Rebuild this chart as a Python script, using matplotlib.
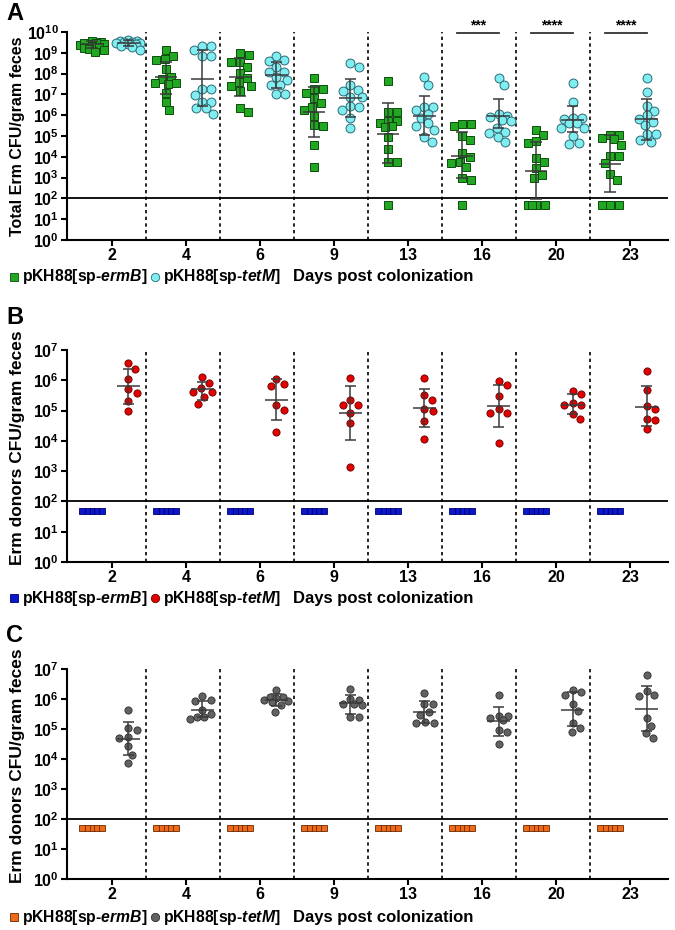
import numpy as np
import matplotlib
matplotlib.use('Agg')
import matplotlib.pyplot as plt
from matplotlib.ticker import FixedLocator, FuncFormatter, NullLocator
from matplotlib.lines import Line2D

plt.rcParams['font.family'] = ['Liberation Sans', 'DejaVu Sans']
plt.rcParams['font.weight'] = 'bold'
plt.rcParams['mathtext.fontset'] = 'custom'
plt.rcParams['mathtext.rm'] = 'Liberation Sans:bold'
plt.rcParams['mathtext.bf'] = 'Liberation Sans:bold'
plt.rcParams['mathtext.it'] = 'Liberation Sans:italic:bold'
plt.rcParams['mathtext.bfit'] = 'Liberation Sans:italic:bold'

days = ['2', '4', '6', '9', '13', '16', '20', '23']

# ---- panel A, log10 CFU/gram feces ----
a_ermB = [
    [9.57, 9.50, 9.45, 9.42, 9.40, 9.38, 9.35, 9.48, 9.30, 9.25, 9.20, 9.13, 9.05],
    [9.13, 8.85, 8.69, 8.65, 8.21, 7.85, 7.72, 7.53, 7.53, 7.50, 7.08, 6.65, 6.25],
    [9.00, 8.90, 8.57, 8.57, 8.33, 8.04, 7.77, 7.61, 7.40, 7.40, 7.18, 6.33, 6.17],
    [7.77, 7.24, 7.24, 7.05, 6.81, 6.57, 6.41, 6.25, 5.96, 5.53, 5.50, 4.57, 3.53],
    [7.66, 6.17, 6.17, 5.74, 5.70, 5.64, 5.48, 5.45, 4.94, 4.36, 3.73, 3.73, 1.70],
    [5.56, 5.56, 5.48, 5.00, 4.81, 4.17, 3.97, 3.77, 3.69, 3.49, 2.96, 2.88, 1.70],
    [5.29, 5.05, 4.76, 4.68, 3.93, 3.77, 3.45, 3.13, 2.96, 1.70, 1.70, 1.70, 1.70],
    [5.05, 5.05, 4.89, 4.84, 4.57, 4.04, 4.04, 3.72, 3.17, 2.88, 1.70, 1.70, 1.70],
]
a_tetM = [
    [9.62, 9.58, 9.55, 9.52, 9.50, 9.48, 9.46, 9.44, 9.40, 9.35, 9.28, 9.15],
    [9.33, 9.33, 9.13, 8.85, 8.85, 7.24, 7.24, 6.97, 6.65, 6.65, 6.33, 6.33, 6.06],
    [8.85, 8.65, 8.60, 8.33, 8.09, 8.09, 7.85, 7.69, 7.45, 7.45, 7.02, 7.02],
    [8.49, 8.33, 7.45, 7.21, 7.18, 6.89, 6.89, 6.44, 6.41, 6.25, 5.85, 5.40],
    [7.85, 7.45, 6.38, 6.38, 6.25, 6.06, 5.85, 5.61, 5.48, 5.29, 4.97, 4.70],
    [7.80, 7.45, 6.06, 5.98, 5.90, 5.77, 5.70, 5.40, 5.21, 5.16, 4.95, 4.70],
    [7.53, 6.65, 5.85, 5.85, 5.80, 5.64, 5.64, 5.37, 5.37, 5.00, 4.68, 4.60],
    [7.80, 7.13, 6.44, 6.22, 6.00, 5.80, 5.69, 5.53, 5.08, 5.08, 4.81, 4.70],
]
a_ermB_mean = [9.40, 7.85, 7.82, 6.14, 5.10, 4.05, 3.33, 3.64]
a_ermB_lo = [9.25, 7.00, 6.94, 4.97, 3.69, 2.96, 1.96, 2.32]
a_ermB_hi = [9.55, 8.57, 8.73, 7.34, 6.57, 5.18, 4.73, 5.05]
a_tetM_mean = [9.48, 7.72, 7.92, 6.81, 5.98, 5.96, 5.77, 5.80]
a_tetM_lo = [9.35, 6.44, 7.29, 5.90, 5.05, 5.37, 5.21, 4.81]
a_tetM_hi = [9.60, 9.13, 8.54, 7.72, 6.92, 6.76, 6.44, 6.76]
a_signif = {5: '***', 6: '****', 7: '****'}

# ---- panel B ----
b_ermB = [[1.70] * 5 for _ in days]
b_tetM = [
    [6.58, 6.38, 6.03, 5.70, 5.59, 5.31, 4.99],
    [6.12, 5.90, 5.73, 5.62, 5.60, 5.45, 5.23],
    [6.05, 5.87, 5.81, 5.18, 5.03, 4.29],
    [6.06, 5.36, 5.20, 5.18, 4.93, 4.59, 3.15],
    [6.08, 5.51, 5.34, 5.04, 4.99, 4.65, 4.07],
    [5.98, 5.86, 5.49, 5.04, 4.93, 4.93, 3.94],
    [5.65, 5.54, 5.25, 5.20, 5.18, 4.88, 4.73],
    [6.30, 5.67, 5.15, 5.04, 4.73, 4.68, 4.40],
]
b_mean = [5.81, 5.71, 5.36, 4.93, 5.10, 5.15, 5.20, 5.12]
b_lo = [5.23, 5.36, 4.70, 4.04, 4.46, 4.46, 4.88, 4.50]
b_hi = [6.36, 5.95, 6.03, 5.82, 5.72, 5.86, 5.54, 5.81]

# ---- panel C ----
c_ermB = [[1.70] * 5 for _ in days]
c_tetM = [
    [5.64, 5.03, 4.96, 4.73, 4.70, 4.42, 4.14, 3.87],
    [6.09, 5.98, 5.92, 5.64, 5.51, 5.40, 5.40, 5.33],
    [6.29, 6.07, 6.07, 6.02, 5.96, 5.92, 5.90, 5.79, 5.57],
    [6.33, 6.00, 5.96, 5.84, 5.84, 5.79, 5.40, 5.40],
    [6.20, 5.83, 5.83, 5.57, 5.48, 5.23, 5.20, 5.20],
    [6.14, 5.44, 5.44, 5.37, 5.31, 4.98, 4.90, 4.51],
    [6.29, 6.23, 6.14, 5.83, 5.59, 5.20, 5.03, 4.90],
    [6.81, 6.28, 6.13, 6.11, 5.37, 5.11, 4.87, 4.70],
]
c_mean = [4.68, 5.64, 5.98, 5.87, 5.56, 5.26, 5.64, 5.68]
c_lo = [4.12, 5.40, 5.76, 5.51, 5.20, 4.78, 5.09, 4.92]
c_hi = [5.23, 5.92, 6.17, 6.12, 5.92, 5.73, 6.23, 6.44]

W, H = 675, 930
PX_PER_CAT = 74.0
OFF_ERM, OFF_TET = -0.27, 0.22


def swarm(vals, px_dec, d, max_w=12.0):
    """simple beeswarm offsets (in category units)"""
    y = np.asarray(vals, float) * px_dec
    xs = np.zeros(len(y))
    placed = []
    for i in np.argsort(-y):
        cands = [0.0]
        for xj, yj in placed:
            dy = y[i] - yj
            if abs(dy) < d:
                dx = np.sqrt(d * d - dy * dy)
                cands += [xj + dx, xj - dx]
        cands = sorted([c for c in cands if abs(c) <= max_w], key=abs)
        best = None
        for c in cands:
            if all((c - xj) ** 2 + (y[i] - yj) ** 2 >= d * d - 1e-6 for xj, yj in placed):
                best = c
                break
        if best is None:
            grid = np.linspace(-max_w, max_w, 25)
            score = [min((g - xj) ** 2 + (y[i] - yj) ** 2 for xj, yj in placed) for g in grid]
            best = grid[int(np.argmax(score))]
        xs[i] = best
        placed.append((best, y[i]))
    return xs / PX_PER_CAT


def errbar(ax, x, m, lo, hi, color='#3a3a3a'):
    kw = dict(color=color, lw=1.1, zorder=5, solid_capstyle='butt')
    ax.plot([x, x], [10 ** lo, 10 ** hi], **kw)
    ax.plot([x - 0.15, x + 0.15], [10 ** m] * 2, **kw)
    ax.plot([x - 0.08, x + 0.08], [10 ** lo] * 2, **kw)
    ax.plot([x - 0.08, x + 0.08], [10 ** hi] * 2, **kw)


def setup(ax, ytop, ylabel, lsize, lcoord):
    ax.set_yscale('log')
    ax.set_ylim(1, 10 ** ytop)
    ax.set_xlim(-0.61, 7.51)
    for s in ['top', 'right']:
        ax.spines[s].set_visible(False)
    for s in ['left', 'bottom']:
        ax.spines[s].set_linewidth(1.5)
    ax.yaxis.set_major_locator(FixedLocator([10.0 ** k for k in range(ytop + 1)]))
    ax.yaxis.set_minor_locator(NullLocator())
    ax.yaxis.set_major_formatter(FuncFormatter(lambda v, p: r'$\mathbf{10^{%d}}$' % round(np.log10(v))))
    ax.set_xticks(range(len(days)))
    ax.set_xticklabels(days, fontsize=11.5, fontweight='bold')
    ax.tick_params(axis='both', width=1.5, length=4, labelsize=11.5, pad=2)
    ax.set_ylabel(ylabel, fontsize=lsize, fontweight='bold')
    ax.yaxis.set_label_coords(lcoord[0], lcoord[1])
    for i in range(len(days) - 1):
        ax.axvline(i + 0.46, color='black', lw=1.2, ls=(0, (2, 2)), zorder=1)
    ax.axhline(100, color='black', lw=1.3, zorder=2)


def legend_row(fig, ypx, c1, e1, m1, c2, e2, m2):
    y = 1 - ypx / H
    fig.add_artist(Line2D([14 / W], [y], marker=m1, ms=6, mfc=c1, mec=e1, mew=0.6,
                          transform=fig.transFigure))
    fig.text(22 / W, y, r'pKH88[sp-$\mathbfit{ermB}$]', fontsize=11.3, fontweight='bold', va='center')
    fig.add_artist(Line2D([155 / W], [y], marker=m2, ms=6, mfc=c2, mec=e2, mew=0.6,
                          transform=fig.transFigure))
    fig.text(163 / W, y, r'pKH88[sp-$\mathbfit{tetM}$]', fontsize=11.3, fontweight='bold', va='center')
    fig.text(293 / W, y, 'Days post colonization', fontsize=12, fontweight='bold', va='center')


fig = plt.figure(figsize=(W / 100, H / 100), dpi=100)
axA = fig.add_axes([67 / W, 1 - 240 / H, 601 / W, 208 / H])
axB = fig.add_axes([67 / W, 1 - 562 / H, 601 / W, 212 / H])
axC = fig.add_axes([67 / W, 1 - 879 / H, 601 / W, 210 / H])

# panel A
px_dec_A = 20.8
for i in range(len(days)):
    xe = i + OFF_ERM + swarm(a_ermB[i], px_dec_A, 8.7)
    axA.plot(xe, 10 ** np.array(a_ermB[i]), 's', ms=6.2, mfc='#22a722', mec='#0b4d0b', mew=0.7,
             ls='none', zorder=3, clip_on=False)
    xt = i + OFF_TET + swarm(a_tetM[i], px_dec_A, 9.0)
    axA.plot(xt, 10 ** np.array(a_tetM[i]), 'o', ms=6.4, mfc='#80eef0', mec='#2c6a78', mew=0.7,
             ls='none', zorder=3, clip_on=False)
    errbar(axA, i + OFF_ERM, a_ermB_mean[i], a_ermB_lo[i], a_ermB_hi[i])
    errbar(axA, i + OFF_TET, a_tetM_mean[i], a_tetM_lo[i], a_tetM_hi[i])
for i, s in a_signif.items():
    axA.plot([i + OFF_ERM - 0.07, i + OFF_TET], [10 ** 9.95] * 2, color='#333333', lw=1.3,
             clip_on=False, zorder=5)
    axA.text((i + OFF_ERM - 0.07 + i + OFF_TET) / 2, 10 ** 9.98, s, ha='center', va='bottom',
             fontsize=10, fontweight='bold', clip_on=False)
setup(axA, 10, 'Total Erm CFU/gram feces', 11.5, (-0.07, 0.5))

# panels B and C
px_dec_BC = 30.1
for ax, erm, tet, mn, lo, hi, sq, sqe, dot, dote in [
        (axB, b_ermB, b_tetM, b_mean, b_lo, b_hi, '#0c17c9', '#00006e', '#e30000', '#6a0000'),
        (axC, c_ermB, c_tetM, c_mean, c_lo, c_hi, '#ee6a1a', '#6a2a00', '#626262', '#2e2e2e')]:
    for i in range(len(days)):
        xe = i + OFF_ERM + swarm(erm[i], px_dec_BC, 4.9)
        ax.plot(xe, 10 ** np.array(erm[i]), 's', ms=4.4, mfc=sq, mec=sqe, mew=0.6,
                ls='none', zorder=3)
        xt = i + OFF_TET + swarm(tet[i], px_dec_BC, 9.0)
        ax.plot(xt, 10 ** np.array(tet[i]), 'o', ms=5.2, mfc=dot, mec=dote, mew=0.6,
                ls='none', zorder=3)
        errbar(ax, i + OFF_TET, mn[i], lo[i], hi[i])
    setup(ax, 7, 'Erm donors CFU/gram feces', 12.5, (-0.07, 0.54))

legend_row(fig, 277, '#22a722', '#0b4d0b', 's', '#80eef0', '#2c6a78', 'o')
legend_row(fig, 598, '#0c17c9', '#00006e', 's', '#e30000', '#6a0000', 'o')
legend_row(fig, 917, '#ee6a1a', '#6a2a00', 's', '#626262', '#2e2e2e', 'o')

fig.text(6 / W, 1 - 14 / H, 'A', fontsize=17, fontweight='bold', va='center')
fig.text(6 / W, 1 - 318 / H, 'B', fontsize=17, fontweight='bold', va='center')
fig.text(6 / W, 1 - 636 / H, 'C', fontsize=17, fontweight='bold', va='center')

fig.savefig('out.png', dpi=100)
